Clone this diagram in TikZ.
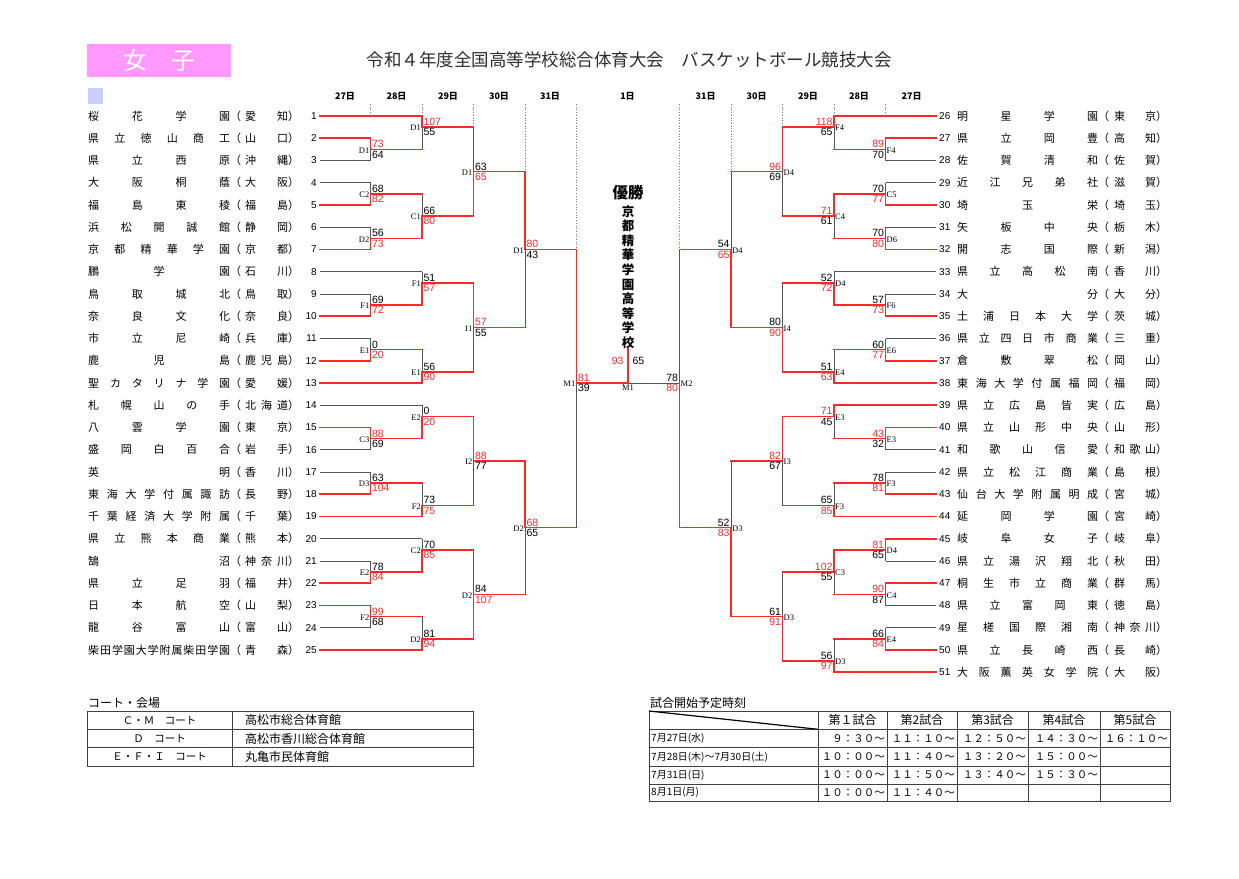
\documentclass[tikz,border=0pt]{standalone}
\usepackage{fontspec}
\setmainfont{Liberation Sans}
\newfontfamily\jp{Noto Sans CJK JP}
\newfontfamily\lbl{Liberation Serif}

\definecolor{winred}{RGB}{255,40,40}
\definecolor{losegray}{RGB}{85,85,85}
\definecolor{boxpink}{RGB}{255,153,255}
\definecolor{boxlav}{RGB}{204,204,255}
\definecolor{titlegray}{RGB}{45,45,45}

\pgfdeclarelayer{lines}
\pgfsetlayers{lines,main}

% spread the characters of a name over a fixed width
\def\spreadEnd{}
\def\spread#1{\spreadA#1\spreadEnd}
\def\spreadA#1#2{#1\ifx#2\spreadEnd\else\hfill\expandafter\spreadA\expandafter#2\fi}

% team on the left: number, name, prefecture, end x, line style
\newcommand{\lteam}[5]{%
  \pgfmathsetmacro{\rowy}{116+(#1-1)*22.25}
  \node[tname, anchor=west] (name#1) at (88,\rowy) {\makebox[142pt][s]{\expandafter\spread\expandafter{#2}}};
  \node[tname, anchor=west] (pref#1) at (230,\rowy) {（\hspace{4pt}\makebox[43pt][s]{\expandafter\spread\expandafter{#3}}）};
  \node[tnum, anchor=east] (no#1) at (317,\rowy) {#1};
  \coordinate (row#1) at (320,\rowy);
  \coordinate (end#1) at (#4,\rowy);
  \draw[#5] (row#1) -- (end#1);
}
% team on the right
\newcommand{\rteam}[5]{%
  \pgfmathsetmacro{\rowy}{116+(#1-26)*22.25}
  \node[tnum, anchor=west] (no#1) at (939,\rowy) {#1};
  \node[tname, anchor=west] (name#1) at (957,\rowy) {\makebox[141pt][s]{\expandafter\spread\expandafter{#2}}};
  \node[tname, anchor=west] (pref#1) at (1098,\rowy) {（\hspace{5pt}\makebox[42pt][s]{\expandafter\spread\expandafter{#3}}）};
  \coordinate (row#1) at (936,\rowy);
  \coordinate (end#1) at (#4,\rowy);
  \draw[#5] (row#1) -- (end#1);
}

% match on the left: name, x, top y, bottom y, out y, court, top score, bottom score, winner t/b
\newcommand{\lmatch}[9]{%
  \coordinate (#1t) at (#2,#3);
  \coordinate (#1b) at (#2,#4);
  \coordinate (#1o) at (#2,#5);
  \coordinate (#1n) at (#2+51.5,#5);
  \node[court, anchor=east] (#1c) at (#1o) {#6};
  \if#9t
    \begin{pgfonlayer}{lines}\draw[lose] (#1o) -- (#1b);\end{pgfonlayer}
    \draw[win] (#1t) -- (#1o) -- (#1n);
    \node[score, text=winred, anchor=south west] (#1s) at (#1o) {#7};
    \node[score, anchor=north west] (#1u) at (#1o) {#8};
  \else
    \begin{pgfonlayer}{lines}\draw[lose] (#1t) -- (#1o);\end{pgfonlayer}
    \draw[win] (#1b) -- (#1o) -- (#1n);
    \node[score, anchor=south west] (#1s) at (#1o) {#7};
    \node[score, text=winred, anchor=north west] (#1u) at (#1o) {#8};
  \fi
}
% match on the right
\newcommand{\rmatch}[9]{%
  \coordinate (#1t) at (#2,#3);
  \coordinate (#1b) at (#2,#4);
  \coordinate (#1o) at (#2,#5);
  \coordinate (#1n) at (#2-51.5,#5);
  \node[court, anchor=west] (#1c) at (#1o) {#6};
  \if#9t
    \begin{pgfonlayer}{lines}\draw[lose] (#1o) -- (#1b);\end{pgfonlayer}
    \draw[win] (#1t) -- (#1o) -- (#1n);
    \node[score, text=winred, anchor=south east] (#1s) at (#1o) {#7};
    \node[score, anchor=north east] (#1u) at (#1o) {#8};
  \else
    \begin{pgfonlayer}{lines}\draw[lose] (#1t) -- (#1o);\end{pgfonlayer}
    \draw[win] (#1b) -- (#1o) -- (#1n);
    \node[score, anchor=south east] (#1s) at (#1o) {#7};
    \node[score, text=winred, anchor=north east] (#1u) at (#1o) {#8};
  \fi
}

\begin{document}
\begin{tikzpicture}[x=1pt, y=-1pt,
    win/.style={draw=winred, line width=1.6pt, line cap=rect},
    lose/.style={draw=losegray, line width=0.8pt},
    guide/.style={draw=black!55, dotted, line width=0.7pt},
    score/.style={inner sep=1.3pt, font=\fontsize{10.5}{11}\selectfont},
    court/.style={inner sep=1pt, yshift=-1pt, font=\lbl\fontsize{8.5}{9}\selectfont},
    tname/.style={inner sep=0pt, font=\jp\fontsize{11}{12}\selectfont},
    tnum/.style={inner sep=0pt, font=\fontsize{10}{11}\selectfont},
    day/.style={inner sep=0pt, font=\jp\bfseries\fontsize{9}{10}\selectfont},
    tbl/.style={draw=black!75, line width=0.8pt},
    tabcap/.style={inner sep=0pt, anchor=west, font=\jp\fontsize{12}{13}\selectfont},
    cellc/.style={inner sep=0pt, font=\jp\fontsize{10.5}{12}\selectfont},
    cellw/.style={inner sep=0pt, anchor=west, font=\jp\fontsize{12}{13}\selectfont},
    colhead/.style={inner sep=0pt, font=\jp\fontsize{12}{13}\selectfont},
    datecell/.style={inner sep=0pt, anchor=west, font=\jp\fontsize{10}{11}\selectfont},
    timecell/.style={inner sep=0pt, anchor=east, font=\jp\fontsize{10.5}{11}\selectfont}
]
    \useasboundingbox (0,0) rectangle (1239,878);

    % Title
    \node[fill=boxpink, minimum width=144pt, minimum height=33pt, inner sep=0pt, anchor=north west,
          text=white, font=\jp\fontsize{24}{24}\selectfont] (girls) at (87,44) {女　子};
    \node[text=titlegray, font=\jp\fontsize{17.5}{18}\selectfont] (title) at (629,60)
        {令和４年度全国高等学校総合体育大会　バスケットボール競技大会};
    \fill[boxlav] (88,88) rectangle (103,104);

    % Days
    \foreach \x/\d [count=\i] in {345/27日, 396.5/28日, 448/29日, 499/30日, 550/31日, 627.5/1日,
                                  705.7/31日, 756.7/30日, 808/29日, 859/28日, 911.7/27日}
        \node[day] (day\i) at (\x,96) {\d};
    \begin{pgfonlayer}{lines}
    \foreach \x/\y in {370.5/116, 422/116, 473.5/127.125, 525/171.625, 576.5/249.5,
                       679.5/249.5, 731/171.625, 782.5/127.125, 834/116, 885.5/116}
        \draw[guide] (\x,104) -- (\x,\y);
    \end{pgfonlayer}

    % Teams, left
    \foreach \tn/\nm/\pf/\xe/\st in {1/桜花学園/愛知/422/win, 2/県立徳山商工/山口/370.5/win,
        3/県立西原/沖縄/370.5/lose, 4/大阪桐蔭/大阪/370.5/lose, 5/福島東稜/福島/370.5/win,
        6/浜松開誠館/静岡/370.5/lose, 7/京都精華学園/京都/370.5/win, 8/鵬学園/石川/422/lose,
        9/鳥取城北/鳥取/370.5/lose, 10/奈良文化/奈良/370.5/win, 11/市立尼崎/兵庫/370.5/lose,
        12/鹿児島/鹿児島/370.5/win, 13/聖カタリナ学園/愛媛/422/win, 14/札幌山の手/北海道/422/lose,
        15/八雲学園/東京/370.5/win, 16/盛岡白百合/岩手/370.5/lose, 17/英明/香川/370.5/lose,
        18/東海大学付属諏訪/長野/370.5/win, 19/千葉経済大学附属/千葉/422/win,
        20/県立熊本商業/熊本/422/lose, 21/鵠沼/神奈川/370.5/lose, 22/県立足羽/福井/370.5/win,
        23/日本航空/山梨/370.5/win, 24/龍谷富山/富山/370.5/lose, 25/柴田学園大学附属柴田学園/青森/422/win}
        \lteam{\tn}{\nm}{\pf}{\xe}{\st};

    % Teams, right
    \foreach \tn/\nm/\pf/\xe/\st in {26/明星学園/東京/834/win, 27/県立岡豊/高知/885.5/win,
        28/佐賀清和/佐賀/885.5/lose, 29/近江兄弟社/滋賀/885.5/lose, 30/埼玉栄/埼玉/885.5/win,
        31/矢板中央/栃木/885.5/lose, 32/開志国際/新潟/885.5/win, 33/県立高松南/香川/834/lose,
        34/大分/大分/885.5/lose, 35/土浦日本大学/茨城/885.5/win, 36/県立四日市商業/三重/885.5/lose,
        37/倉敷翠松/岡山/885.5/win, 38/東海大学付属福岡/福岡/834/win, 39/県立広島皆実/広島/834/win,
        40/県立山形中央/山形/885.5/win, 41/和歌山信愛/和歌山/885.5/lose, 42/県立松江商業/島根/885.5/lose,
        43/仙台大学附属明成/宮城/885.5/win, 44/延岡学園/宮崎/834/win, 45/岐阜女子/岐阜/885.5/win,
        46/県立湯沢翔北/秋田/885.5/lose, 47/桐生市立商業/群馬/885.5/win, 48/県立富岡東/徳島/885.5/lose,
        49/星槎国際湘南/神奈川/885.5/lose, 50/県立長崎西/長崎/885.5/win, 51/大阪薫英女学院/大阪/834/win}
        \rteam{\tn}{\nm}{\pf}{\xe}{\st};

    % Left bracket
    \lmatch{la1}{370.5}{138.25}{160.5}{149.375}{D1}{73}{64}{t}
    \lmatch{la2}{370.5}{182.75}{205}{193.875}{C2}{68}{82}{b}
    \lmatch{la3}{370.5}{227.25}{249.5}{238.375}{D2}{56}{73}{b}
    \lmatch{la4}{370.5}{294}{316.25}{305.125}{F1}{69}{72}{b}
    \lmatch{la5}{370.5}{338.5}{360.75}{349.625}{E1}{0}{20}{b}
    \lmatch{la6}{370.5}{427.5}{449.75}{438.625}{C3}{88}{69}{t}
    \lmatch{la7}{370.5}{472}{494.25}{483.125}{D3}{63}{104}{b}
    \lmatch{la8}{370.5}{561}{583.25}{572.125}{E2}{78}{84}{b}
    \lmatch{la9}{370.5}{605.5}{627.75}{616.625}{F2}{99}{68}{t}
    \lmatch{lb1}{422}{116}{149.375}{127.125}{D1}{107}{55}{t}
    \lmatch{lb2}{422}{193.875}{238.375}{216.125}{C1}{66}{80}{b}
    \lmatch{lb3}{422}{271.75}{305.125}{282.875}{F1}{51}{57}{b}
    \lmatch{lb4}{422}{349.625}{383}{371.875}{E1}{56}{90}{b}
    \lmatch{lb5}{422}{405.25}{438.625}{416.375}{E2}{0}{20}{b}
    \lmatch{lb6}{422}{483.125}{516.5}{505.375}{F2}{73}{75}{b}
    \lmatch{lb7}{422}{538.75}{572.125}{549.875}{C2}{70}{85}{b}
    \lmatch{lb8}{422}{616.625}{650}{638.875}{D2}{81}{94}{b}
    \lmatch{lc1}{473.5}{127.125}{216.125}{171.625}{D1}{63}{65}{b}
    \lmatch{lc2}{473.5}{282.875}{371.875}{327.375}{I1}{57}{55}{t}
    \lmatch{lc3}{473.5}{416.375}{505.375}{460.875}{I2}{88}{77}{t}
    \lmatch{lc4}{473.5}{549.875}{638.875}{594.375}{D2}{84}{107}{b}
    \lmatch{ld1}{525}{171.625}{327.375}{249.5}{D1}{80}{43}{t}
    \lmatch{ld2}{525}{460.875}{594.375}{527.625}{D2}{68}{65}{t}
    \lmatch{m1}{576.5}{249.5}{527.625}{383}{M1}{81}{39}{t}

    % Right bracket
    \rmatch{ra1}{885.5}{138.25}{160.5}{149.375}{F4}{89}{70}{t}
    \rmatch{ra2}{885.5}{182.75}{205}{193.875}{C5}{70}{77}{b}
    \rmatch{ra3}{885.5}{227.25}{249.5}{238.375}{D6}{70}{80}{b}
    \rmatch{ra4}{885.5}{294}{316.25}{305.125}{F6}{57}{73}{b}
    \rmatch{ra5}{885.5}{338.5}{360.75}{349.625}{E6}{60}{77}{b}
    \rmatch{ra6}{885.5}{427.5}{449.75}{438.625}{E3}{43}{32}{t}
    \rmatch{ra7}{885.5}{472}{494.25}{483.125}{F3}{78}{81}{b}
    \rmatch{ra8}{885.5}{538.75}{561}{549.875}{D4}{81}{65}{t}
    \rmatch{ra9}{885.5}{583.25}{605.5}{594.375}{C4}{90}{87}{t}
    \rmatch{raa}{885.5}{627.75}{650}{638.875}{E4}{66}{84}{b}
    \rmatch{rb1}{834}{116}{149.375}{127.125}{F4}{118}{65}{t}
    \rmatch{rb2}{834}{193.875}{238.375}{216.125}{C4}{71}{61}{t}
    \rmatch{rb3}{834}{271.75}{305.125}{282.875}{D4}{52}{72}{b}
    \rmatch{rb4}{834}{349.625}{383}{371.875}{E4}{51}{63}{b}
    \rmatch{rb5}{834}{405.25}{438.625}{416.375}{E3}{71}{45}{t}
    \rmatch{rb6}{834}{483.125}{516.5}{505.375}{F3}{65}{85}{b}
    \rmatch{rb7}{834}{549.875}{594.375}{572.125}{C3}{102}{55}{t}
    \rmatch{rb8}{834}{638.875}{672.25}{661.125}{D3}{56}{97}{b}
    \rmatch{rc1}{782.5}{127.125}{216.125}{171.625}{D4}{96}{69}{t}
    \rmatch{rc2}{782.5}{282.875}{371.875}{327.375}{I4}{80}{90}{b}
    \rmatch{rc3}{782.5}{416.375}{505.375}{460.875}{I3}{82}{67}{t}
    \rmatch{rc4}{782.5}{572.125}{661.125}{616.625}{D3}{61}{91}{b}
    \rmatch{rd1}{731}{171.625}{327.375}{249.5}{D4}{54}{65}{b}
    \rmatch{rd2}{731}{460.875}{616.625}{527.625}{D3}{52}{83}{b}

    % Semifinal right and final
    \coordinate (m2t) at (679.5,249.5);
    \coordinate (m2b) at (679.5,527.625);
    \coordinate (m2o) at (679.5,383);
    \coordinate (fin) at (628,383);
    \coordinate (champ) at (628,349);
    \begin{pgfonlayer}{lines}\draw[lose] (m2t) -- (m2o) -- (fin);\end{pgfonlayer}
    \draw[win] (m2b) -- (m2o);
    \draw[win] (fin) -- (champ);
    \node[court, anchor=west] (m2c) at (m2o) {M2};
    \node[score, anchor=south east] (m2s) at (m2o) {78};
    \node[score, text=winred, anchor=north east] (m2u) at (m2o) {80};
    \node[score, text=winred, anchor=east] (fins) at (625,361) {93};
    \node[score, anchor=west] (finu) at (631,361) {65};
    \node[court, anchor=north, yshift=0pt] (finc) at (fin) {M1};

    % Champion
    \node[font=\jp\bfseries\fontsize{15.5}{16}\selectfont] (yusho) at (628,193) {優勝};
    \node[font=\jp\bfseries\fontsize{12.5}{14.56}\selectfont, align=center, inner sep=0pt] (champname) at (628,277)
        {京\\都\\精\\華\\学\\園\\高\\等\\学\\校};

    % Courts and venues
    \node[tabcap] (venuecap) at (88,702.5) {コート・会場};
    \draw[tbl] (87,711) rectangle (473,766);
    \draw[tbl] (87,729.3) -- (473,729.3) (87,747.7) -- (473,747.7) (232,711) -- (232,766);
    \node[cellc] (court1) at (159.5,720.2) {Ｃ・Ｍ　コート};
    \node[cellc] (court2) at (159.5,738.5) {Ｄ　コート};
    \node[cellc] (court3) at (159.5,756.8) {Ｅ・Ｆ・Ｉ　コート};
    \node[cellw] (venue1) at (245,720.2) {高松市総合体育館};
    \node[cellw] (venue2) at (245,738.5) {高松市香川総合体育館};
    \node[cellw] (venue3) at (245,756.8) {丸亀市民体育館};

    % Start times
    \node[tabcap] (timecap) at (650,702.5) {試合開始予定時刻};
    \draw[tbl] (649,711) rectangle (1170,801);
    \foreach \y in {729.3, 747.7, 766, 784}
        \draw[tbl] (649,\y) -- (1170,\y);
    \foreach \x in {818, 887, 957, 1028.3, 1100}
        \draw[tbl] (\x,711) -- (\x,801);
    \draw[line width=1.2pt] (649,711) -- (818,729.3);
    \foreach \x/\t [count=\i] in {852.5/第１試合, 922/第2試合, 992.6/第3試合, 1064/第4試合, 1135/第5試合}
        \node[colhead] (game\i) at (\x,720.2) {\t};
    \foreach \y/\t [count=\i] in {738.5/7月27日(水), 756.8/7月28日(木)～7月30日(土), 775/7月31日(日), 792.5/8月1日(月)}
        \node[datecell] (date\i) at (651,\y) {\t};
    \foreach \x/\y/\t [count=\i] in {885/738.5/９：３０～, 955/738.5/１１：１０～, 1026/738.5/１２：５０～,
        1098/738.5/１４：３０～, 1168/738.5/１６：１０～, 885/756.8/１０：００～, 955/756.8/１１：４０～,
        1026/756.8/１３：２０～, 1098/756.8/１５：００～, 885/775/１０：００～, 955/775/１１：５０～,
        1026/775/１３：４０～, 1098/775/１５：３０～, 885/792.5/１０：００～, 955/792.5/１１：４０～}
        \node[timecell] (time\i) at (\x,\y) {\t};
\end{tikzpicture}
\end{document}
